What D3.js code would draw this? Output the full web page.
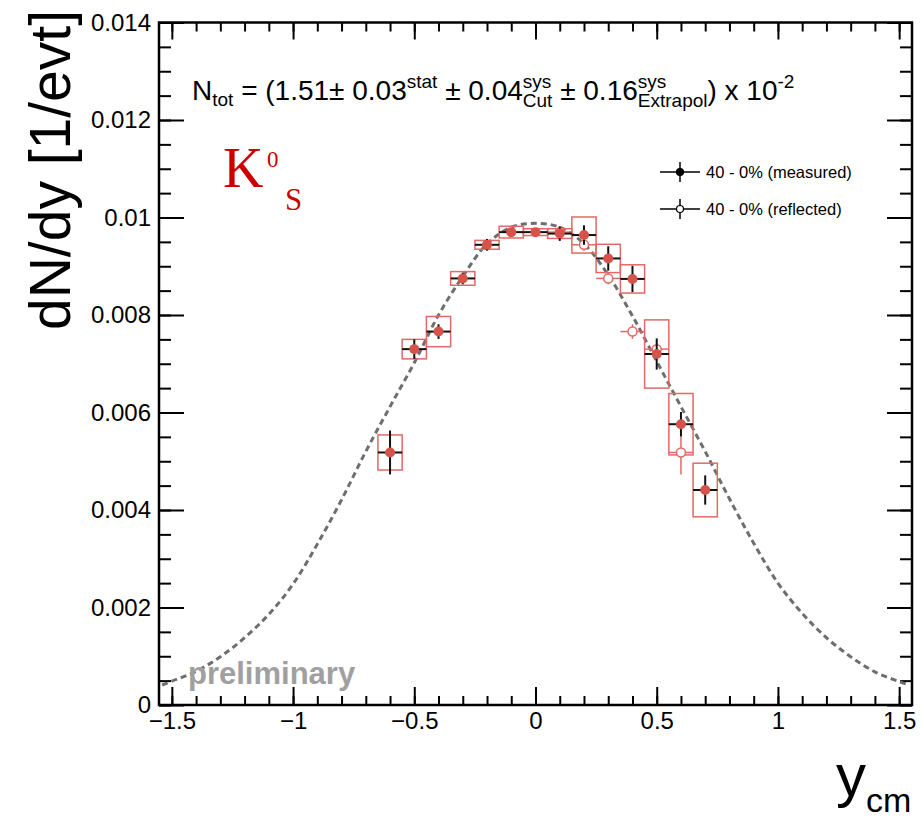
<!DOCTYPE html>
<html>
<head>
<meta charset="utf-8">
<script src="https://cdn.jsdelivr.net/npm/d3@7"></script>
<style>
  body { margin: 0; background: #fff; }
  svg { display: block; font-family: "Liberation Sans", Arial, sans-serif; }
  text { white-space: pre; }
</style>
</head>
<body>
<div id="chart"></div>
<script>
// measured points (filled), 40-0% centrality
const rapidity = [-0.6, -0.5, -0.4, -0.3, -0.2, -0.1, 0, 0.1, 0.2, 0.3, 0.4, 0.5, 0.6, 0.7];
const dndyMeasured = [0.00518, 0.0073, 0.00766, 0.00875, 0.00944, 0.0097, 0.0097, 0.00967, 0.00964, 0.00916, 0.00874, 0.0072, 0.00576, 0.00441];
const statErr = [0.00045, 0.0002, 0.00015, 0.00012, 0.00012, 0.00008, 0.00007, 0.00015, 0.0002, 0.00025, 0.00027, 0.00032, 0.00025, 0.0003];
const sysErr = [0.00036, 0.0002, 0.00031, 0.00014, 0.00009, 0.00012, 0.00007, 0.0001, 0.00037, 0.00029, 0.00029, 0.0007, 0.00063, 0.00055];

// reflected points (open)
const rapidityReflected = [0.1, 0.2, 0.3, 0.4, 0.5, 0.6];
const dndyReflected = [0.0097, 0.00944, 0.00875, 0.00766, 0.0073, 0.00518];
const statErrReflected = [0.00008, 0.00012, 0.00012, 0.00015, 0.0002, 0.00045];

// fit curve
const fitX = [-1.54, -1.5, -1.4, -1.3, -1.2, -1.1, -1.0, -0.9, -0.8, -0.7, -0.6, -0.5, -0.4, -0.3, -0.2, -0.1, 0,
              0.1, 0.2, 0.3, 0.4, 0.5, 0.6, 0.7, 0.8, 0.9, 1.0, 1.1, 1.2, 1.3, 1.4, 1.5, 1.54];
const fitY = [0.00041, 0.00049, 0.00069, 0.00099, 0.00138, 0.00186, 0.00248, 0.0033, 0.00421, 0.0052, 0.00612, 0.00702, 0.008, 0.00879, 0.00946, 0.0098, 0.00988,
              0.0098, 0.00946, 0.00882, 0.00798, 0.00705, 0.00612, 0.0052, 0.00423, 0.00332, 0.0025, 0.00188, 0.00138, 0.00099, 0.00068, 0.00048, 0.00041];

const xTicks = [-1.5, -1, -0.5, 0, 0.5, 1, 1.5];
const yTicks = [0, 0.002, 0.004, 0.006, 0.008, 0.01, 0.012, 0.014];
const binHalfWidth = 0.05;

const legendLabels = ["40 - 0% (measured)", "40 - 0% (reflected)"];

const width = 922, height = 821;
const frame = { left: 159, right: 912, top: 22.5, bottom: 705 };

const svg = d3.select("#chart").append("svg")
    .attr("width", width)
    .attr("height", height);

const x = d3.scaleLinear().domain([-1.553, 1.553]).range([frame.left, frame.right]);
const y = d3.scaleLinear().domain([0, 0.014]).range([frame.bottom, frame.top]);

const red = "#d6524a";
const boxRed = "#e06a66";

// minor ticks
const xMinor = d3.range(-15, 16).map(d => d / 10);
const yMinor = d3.range(0, 29).map(d => d * 0.0005);

const styleAxis = g => {
    g.select(".domain").remove();
    g.selectAll("line").attr("stroke", "#000").attr("stroke-width", 2);
};

svg.append("g").attr("transform", `translate(0,${frame.bottom})`)
    .call(d3.axisBottom(x).tickValues(xMinor).tickSize(-9).tickFormat(""))
    .call(styleAxis);
svg.append("g").attr("transform", `translate(0,${frame.bottom})`)
    .call(d3.axisBottom(x).tickValues(xTicks).tickSize(-18).tickPadding(7)
        .tickFormat(d => d < 0 ? "\u2212" + Math.abs(d) : d))
    .call(styleAxis)
    .selectAll("text").attr("font-size", 24).attr("fill", "#000")
    .attr("font-family", "Liberation Sans, Arial, sans-serif");

svg.append("g").attr("transform", `translate(0,${frame.top})`)
    .call(d3.axisTop(x).tickValues(xMinor).tickSize(-9).tickFormat(""))
    .call(styleAxis);
svg.append("g").attr("transform", `translate(0,${frame.top})`)
    .call(d3.axisTop(x).tickValues(xTicks).tickSize(-17).tickFormat(""))
    .call(styleAxis);

svg.append("g").attr("transform", `translate(${frame.left},0)`)
    .call(d3.axisLeft(y).tickValues(yMinor).tickSize(-12).tickFormat(""))
    .call(styleAxis);
svg.append("g").attr("transform", `translate(${frame.left},0)`)
    .call(d3.axisLeft(y).tickValues(yTicks).tickSize(-25).tickPadding(8).tickFormat(d => d === 0 ? "0" : String(+d.toFixed(3))))
    .call(styleAxis)
    .selectAll("text").attr("font-size", 24).attr("fill", "#000")
    .attr("font-family", "Liberation Sans, Arial, sans-serif");

svg.append("g").attr("transform", `translate(${frame.right},0)`)
    .call(d3.axisRight(y).tickValues(yMinor).tickSize(-12).tickFormat(""))
    .call(styleAxis);
svg.append("g").attr("transform", `translate(${frame.right},0)`)
    .call(d3.axisRight(y).tickValues(yTicks).tickSize(-25).tickFormat(""))
    .call(styleAxis);

// frame
svg.append("rect")
    .attr("x", frame.left).attr("y", frame.top)
    .attr("width", frame.right - frame.left).attr("height", frame.bottom - frame.top)
    .attr("fill", "none").attr("stroke", "#000").attr("stroke-width", 2.5);

// fit curve
const fitData = fitX.map((d, i) => ({ x: d, y: fitY[i] }));
svg.append("path")
    .datum(fitData)
    .attr("fill", "none")
    .attr("stroke", "#6e6e6e")
    .attr("stroke-width", 3)
    .attr("stroke-dasharray", "6,4")
    .attr("d", d3.line().x(d => x(d.x)).y(d => y(d.y)).curve(d3.curveCatmullRom));

const measured = rapidity.map((d, i) => ({ x: d, y: dndyMeasured[i], stat: statErr[i], sys: sysErr[i] }));
const reflected = rapidityReflected.map((d, i) => ({ x: d, y: dndyReflected[i], stat: statErrReflected[i] }));

// systematic boxes
svg.append("g").selectAll("rect")
    .data(measured)
    .join("rect")
    .attr("x", d => x(d.x - binHalfWidth))
    .attr("y", d => y(d.y + d.sys))
    .attr("width", d => x(d.x + binHalfWidth) - x(d.x - binHalfWidth))
    .attr("height", d => y(d.y - d.sys) - y(d.y + d.sys))
    .attr("fill", "none")
    .attr("stroke", boxRed)
    .attr("stroke-width", 1.5);

// reflected points
const gRef = svg.append("g");
gRef.selectAll(".h").data(reflected).join("line")
    .attr("x1", d => x(d.x - binHalfWidth)).attr("x2", d => x(d.x + binHalfWidth))
    .attr("y1", d => y(d.y)).attr("y2", d => y(d.y))
    .attr("stroke", boxRed).attr("stroke-width", 1.5);
gRef.selectAll(".v").data(reflected).join("line")
    .attr("x1", d => x(d.x)).attr("x2", d => x(d.x))
    .attr("y1", d => y(d.y - d.stat)).attr("y2", d => y(d.y + d.stat))
    .attr("stroke", boxRed).attr("stroke-width", 1.5);
gRef.selectAll("circle").data(reflected).join("circle")
    .attr("cx", d => x(d.x)).attr("cy", d => y(d.y)).attr("r", 4.5)
    .attr("fill", "#fff").attr("stroke", boxRed).attr("stroke-width", 1.5);

// measured points
const gMeas = svg.append("g");
gMeas.selectAll(".h").data(measured).join("line")
    .attr("x1", d => x(d.x - binHalfWidth)).attr("x2", d => x(d.x + binHalfWidth))
    .attr("y1", d => y(d.y)).attr("y2", d => y(d.y))
    .attr("stroke", "#111").attr("stroke-width", 2);
gMeas.selectAll(".v").data(measured).join("line")
    .attr("x1", d => x(d.x)).attr("x2", d => x(d.x))
    .attr("y1", d => y(d.y - d.stat)).attr("y2", d => y(d.y + d.stat))
    .attr("stroke", "#111").attr("stroke-width", 2);
gMeas.selectAll("circle").data(measured).join("circle")
    .attr("cx", d => x(d.x)).attr("cy", d => y(d.y)).attr("r", 5)
    .attr("fill", red);

// legend
const legend = svg.append("g");
legendLabels.forEach((label, i) => {
    const ly = 172 + i * 37;
    const lg = legend.append("g");
    lg.append("line").attr("x1", 660).attr("x2", 700).attr("y1", ly).attr("y2", ly)
        .attr("stroke", "#000").attr("stroke-width", 1.5);
    lg.append("line").attr("x1", 680).attr("x2", 680).attr("y1", ly - 10).attr("y2", ly + 10)
        .attr("stroke", "#000").attr("stroke-width", 1.5);
    lg.append("circle").attr("cx", 680).attr("cy", ly).attr("r", 3.5)
        .attr("fill", i === 0 ? "#000" : "#fff").attr("stroke", "#000").attr("stroke-width", 1.2);
    lg.append("text").attr("x", 706).attr("y", ly + 6).attr("font-size", 16.5).text(label);
});

// N_tot annotation laid out piece by piece
function richText(g, x0, y0, parts) {
    let cx = x0;
    parts.forEach(p => {
        if (p.sup !== undefined) {
            const a = g.append("text").attr("x", cx).attr("y", y0 - 12).attr("font-size", 19).text(p.sup);
            const b = g.append("text").attr("x", cx).attr("y", y0 + 7).attr("font-size", 19).text(p.sub || "");
            cx += Math.max(a.node().getComputedTextLength(), b.node().getComputedTextLength());
        } else {
            const t = g.append("text").attr("x", cx).attr("y", y0 + (p.dy || 0))
                .attr("font-size", p.fs || 28).text(p.t);
            cx += t.node().getComputedTextLength();
        }
    });
}
richText(svg.append("g"), 192, 100, [
    { t: "N" },
    { t: "tot", fs: 19, dy: 6 },
    { t: " = (1.51\u00b1 0.03" },
    { sup: "stat" },
    { t: " \u00b1 0.04" },
    { sup: "sys", sub: "Cut" },
    { t: " \u00b1 0.16" },
    { sup: "sys", sub: "Extrapol" },
    { t: ") x 10" },
    { t: "-2", fs: 19, dy: -12 }
]);

// particle label
const kLabel = svg.append("g").attr("fill", "#cc0000").attr("font-family", "Liberation Serif, Times New Roman, serif");
kLabel.append("text").attr("x", 223).attr("y", 187).attr("font-size", 56).text("K");
kLabel.append("text").attr("x", 267).attr("y", 167).attr("font-size", 23).text("0");
kLabel.append("text").attr("x", 285).attr("y", 210).attr("font-size", 31).text("S");

// preliminary
svg.append("text").attr("x", 188).attr("y", 684)
    .attr("font-size", 31).attr("font-weight", "bold").attr("fill", "#a0a0a0")
    .text("preliminary");

// axis titles
svg.append("text")
    .attr("transform", "translate(70,10) rotate(-90)")
    .attr("text-anchor", "end")
    .attr("font-size", 57)
    .text("dN/dy [1/evt]");

const xTitle = svg.append("text").attr("x", 836).attr("y", 796);
xTitle.append("tspan").attr("font-size", 60).text("y");
xTitle.append("tspan").attr("font-size", 34).attr("dy", 16).text("cm");
</script>
</body>
</html>
